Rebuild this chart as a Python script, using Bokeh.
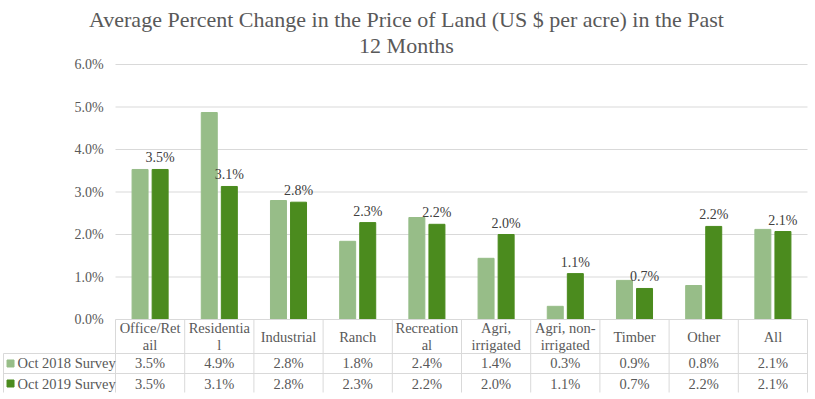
from bokeh.plotting import figure
from bokeh.models import Range1d
from bokeh.core.properties import value
from bokeh.embed import file_html
from bokeh.resources import INLINE

# ---- data ----
title_lines = ["Average Percent Change in the Price of Land (US $ per acre) in the Past", "12 Months"]
categories = ["Office/Retail", "Residential", "Industrial", "Ranch", "Recreational",
              "Agri, irrigated", "Agri, non-irrigated", "Timber", "Other", "All"]
cat_labels = ["Office/Ret\nail", "Residentia\nl", "Industrial", "Ranch", "Recreation\nal",
              "Agri,\nirrigated", "Agri, non-\nirrigated", "Timber", "Other", "All"]
series_names = ["Oct 2018 Survey", "Oct 2019 Survey"]
oct2018 = [3.53, 4.87, 2.80, 1.84, 2.40, 1.44, 0.31, 0.92, 0.80, 2.12]
oct2019 = [3.53, 3.13, 2.76, 2.28, 2.24, 2.00, 1.08, 0.73, 2.19, 2.07]
y_ticks = [0, 1, 2, 3, 4, 5, 6]
y_tick_labels = ["%.1f%%" % t for t in y_ticks]

# ---- styling ----
FONT = value("Liberation Serif")
TXT = "#595959"
GRID = "#D9D9D9"
LIGHT = "#97BD88"
DARK = "#4B8B1E"

W, H = 815, 399
PX_X, X0 = 69.2, 115.0   # pixels per category, left of plot area
PX_Y, Y0 = 42.5, 319.0   # pixels per percent, zero line
n = len(categories)

p = figure(width=W, height=H,
           x_range=Range1d(-X0 / PX_X, (W - X0) / PX_X),
           y_range=Range1d(-(H - Y0) / PX_Y, Y0 / PX_Y),
           output_backend="svg", toolbar_location=None, min_border=0)
p.axis.visible = False
p.grid.visible = False
p.outline_line_color = None
p.background_fill_color = "white"

xl = p.x_range.start + 3 / PX_X
ybot = -(392 - Y0) / PX_Y

# gridlines
p.segment(x0=[0] * (len(y_ticks) - 1), y0=y_ticks[1:], x1=[n] * (len(y_ticks) - 1), y1=y_ticks[1:],
          line_color=GRID, line_width=1)
# y tick labels
p.text(x=[-0.17] * len(y_ticks), y=y_ticks, text=y_tick_labels, text_align="right",
       text_baseline="middle", text_font=FONT, text_font_size="14px", text_color=TXT)

# bars
xs = [i + 0.5 for i in range(n)]
p.vbar(x=[x - 0.145 for x in xs], top=oct2018, width=0.231, color=LIGHT)
p.vbar(x=[x + 0.145 for x in xs], top=oct2019, width=0.231, color=DARK)

# data labels on Oct 2019
p.text(x=[x + 0.145 for x in xs], y=oct2019, text=["%.1f%%" % v for v in oct2019],
       text_align="center", text_baseline="bottom", y_offset=-4,
       text_font=FONT, text_font_size="14px", text_color="#404040")

# title
p.text(x=[4.205, 4.205], y=[7.07, 6.44], text=title_lines, text_align="center",
       text_baseline="middle", text_font=FONT, text_font_size="22px", text_color=TXT)

# ---- data table ----
r1, r2 = -0.8, -1.271
# horizontal lines
p.segment(x0=[0, xl, xl], y0=[0, r1, r2], x1=[n, n, n], y1=[0, r1, r2], line_color=GRID, line_width=1)
# vertical lines
p.segment(x0=list(range(n + 1)), y0=[0] * (n + 1), x1=list(range(n + 1)), y1=[ybot] * (n + 1),
          line_color=GRID, line_width=1)
p.segment(x0=[xl], y0=[r1], x1=[xl], y1=[ybot], line_color=GRID, line_width=1)
# header
p.text(x=xs, y=[-0.4] * n, text=cat_labels, text_align="center", text_baseline="middle",
       text_line_height=1.1, text_font=FONT, text_font_size="14.5px", text_color=TXT)
# rows
row_y = [-1.035, -1.506]
p.text(x=xs, y=[row_y[0]] * n, text=["%.1f%%" % v for v in oct2018], text_align="center",
       text_baseline="middle", text_font=FONT, text_font_size="14.5px", text_color=TXT)
p.text(x=xs, y=[row_y[1]] * n, text=["%.1f%%" % v for v in oct2019], text_align="center",
       text_baseline="middle", text_font=FONT, text_font_size="14.5px", text_color=TXT)
# legend keys + names
p.scatter(x=[-1.517] * 2, y=row_y, marker="square", size=7, color=[LIGHT, DARK])
p.text(x=[-1.416] * 2, y=row_y, text=series_names, text_align="left", text_baseline="middle",
       text_font=FONT, text_font_size="14.5px", text_color=TXT)

open("out.html", "w").write(file_html(p, INLINE))
